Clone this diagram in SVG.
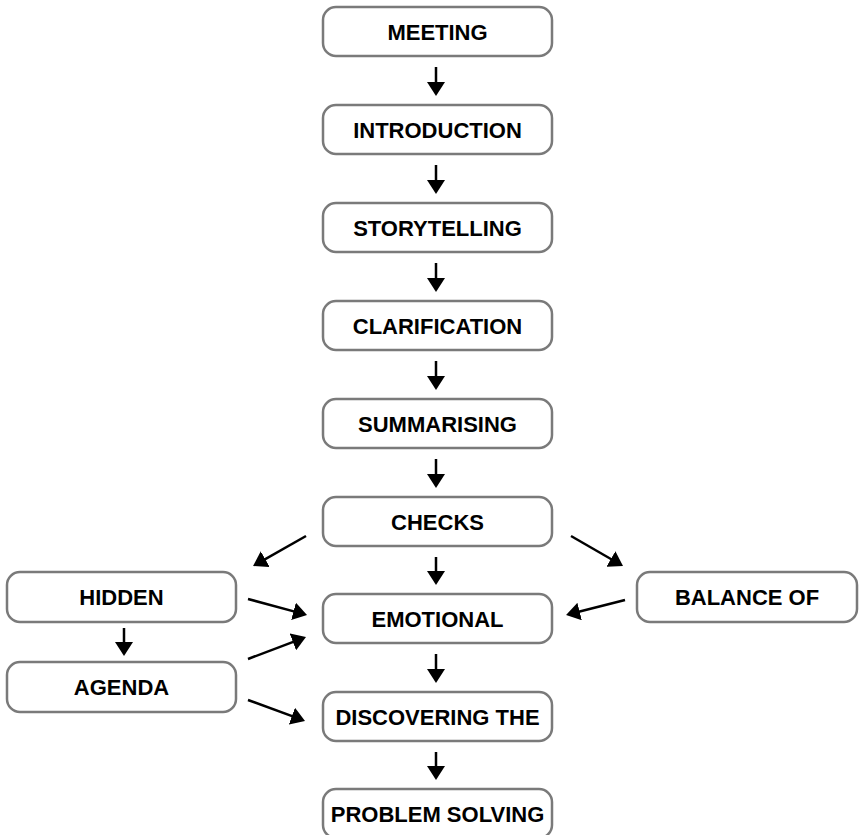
<svg xmlns="http://www.w3.org/2000/svg" width="865" height="835" viewBox="0 0 865 835">
<style>
.box{fill:#fff;stroke:#7a7a7a;stroke-width:2.5}
.lbl{font-family:"Liberation Sans",Arial,sans-serif;font-weight:bold;font-size:22px;fill:#000;text-anchor:middle}
.arr{stroke:#000;stroke-width:2.5;fill:none;marker-end:url(#ah)}
</style>
<defs>
<marker id="ah" viewBox="0 0 14 18" refX="6" refY="9" markerWidth="14" markerHeight="18" markerUnits="userSpaceOnUse" orient="auto">
<path d="M0,0 L14,9 L0,18 z" fill="#000"/>
</marker>
</defs>
<rect width="865" height="835" fill="#fff"/>
<g id="meeting"><rect class="box" x="323" y="7" width="229" height="49" rx="13"/><text class="lbl" x="437.5" y="39.5">MEETING</text></g>
<g id="introduction"><rect class="box" x="323" y="105" width="229" height="49" rx="13"/><text class="lbl" x="437.5" y="137.5">INTRODUCTION</text></g>
<g id="storytelling"><rect class="box" x="323" y="203" width="229" height="49" rx="13"/><text class="lbl" x="437.5" y="235.5">STORYTELLING</text></g>
<g id="clarification"><rect class="box" x="323" y="301" width="229" height="49" rx="13"/><text class="lbl" x="437.5" y="333.5">CLARIFICATION</text></g>
<g id="summarising"><rect class="box" x="323" y="399" width="229" height="49" rx="13"/><text class="lbl" x="437.5" y="431.5">SUMMARISING</text></g>
<g id="checks"><rect class="box" x="323" y="497" width="229" height="49" rx="13"/><text class="lbl" x="437.5" y="529.5">CHECKS</text></g>
<g id="emotional"><rect class="box" x="323" y="594" width="229" height="49" rx="13"/><text class="lbl" x="437.5" y="626.5">EMOTIONAL</text></g>
<g id="discovering"><rect class="box" x="323" y="692" width="229" height="49" rx="13"/><text class="lbl" x="437.5" y="724.5">DISCOVERING THE</text></g>
<g id="problem-solving"><rect class="box" x="323" y="789" width="229" height="49" rx="13"/><text class="lbl" x="437.5" y="821.5">PROBLEM SOLVING</text></g>
<g id="hidden"><rect class="box" x="7" y="572" width="229" height="50" rx="13"/><text class="lbl" x="121.5" y="605">HIDDEN</text></g>
<g id="agenda"><rect class="box" x="7" y="662" width="229" height="50" rx="13"/><text class="lbl" x="121.5" y="695">AGENDA</text></g>
<g id="balance"><rect class="box" x="637" y="572" width="220" height="50" rx="13"/><text class="lbl" x="747" y="605">BALANCE OF</text></g>
<g id="connectors">
<line class="arr" x1="436" y1="67" x2="436" y2="88"/>
<line class="arr" x1="436" y1="165" x2="436" y2="186"/>
<line class="arr" x1="436" y1="263" x2="436" y2="284"/>
<line class="arr" x1="436" y1="361" x2="436" y2="382"/>
<line class="arr" x1="436" y1="459" x2="436" y2="480"/>
<line class="arr" x1="436" y1="557" x2="436" y2="577"/>
<line class="arr" x1="436" y1="654" x2="436" y2="675"/>
<line class="arr" x1="436" y1="752" x2="436" y2="772"/>
<line class="arr" x1="124" y1="628" x2="124" y2="648"/>
<line class="arr" x1="306" y1="536" x2="260" y2="562.1"/>
<line class="arr" x1="248" y1="599" x2="299.3" y2="612.9"/>
<line class="arr" x1="248" y1="659" x2="298.5" y2="639.8"/>
<line class="arr" x1="248" y1="700" x2="297.5" y2="718.2"/>
<line class="arr" x1="571" y1="536" x2="616.1" y2="562"/>
<line class="arr" x1="625" y1="600" x2="573.8" y2="613"/>
</g>
</svg>
